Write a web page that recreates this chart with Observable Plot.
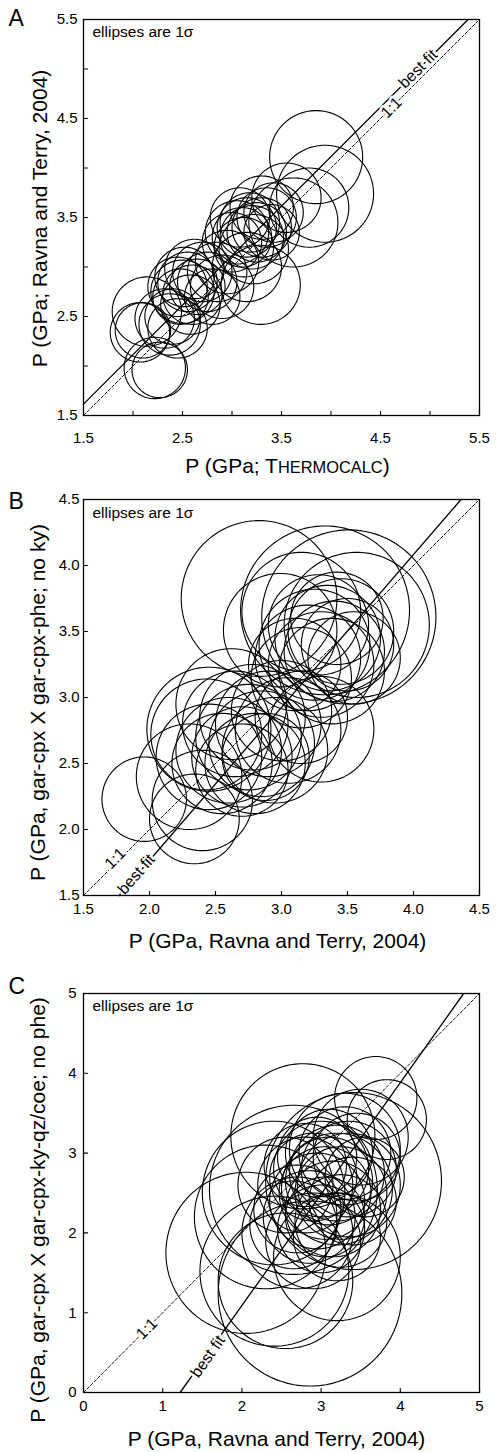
<!DOCTYPE html>
<html><head><meta charset="utf-8">
<script src="https://cdn.jsdelivr.net/npm/d3@7"></script>
<script src="https://cdn.jsdelivr.net/npm/@observablehq/plot@0.6"></script>
<style>
html,body{margin:0;padding:0;background:#fff;}
body{width:497px;}
.panel svg{display:block;overflow:visible;}
</style></head><body>
<div id="A" class="panel"></div><div id="B" class="panel"></div><div id="C" class="panel"></div>
<script>
// ---------- Panel A: centres (GPa) and 1-sigma radii ----------
const aX = [2.07,2.10,2.14,2.22,2.27,2.37,2.32,2.40,2.45,2.45,2.50,2.55,2.48,2.60,2.58,2.65,2.70,2.75,2.80,2.52,2.62,2.85,2.90,3.00,3.05,3.10,3.15,3.20,3.18,3.25,3.30,3.12,3.22,3.35,3.40,3.08,3.30,3.42,3.29,3.15,2.95,3.85,3.94,3.78,3.62,3.55];
const aY = [2.34,2.36,2.55,1.98,1.96,2.42,2.48,2.50,2.38,2.80,2.75,2.85,2.70,2.72,2.62,2.80,2.95,2.85,2.70,2.90,2.98,2.95,2.80,3.25,3.35,3.30,3.40,3.30,3.45,3.35,3.40,3.20,3.18,3.50,3.35,3.50,3.60,3.55,2.82,3.00,3.05,4.11,3.74,3.60,3.45,3.70];
const aS = [0.30,0.28,0.35,0.31,0.28,0.31,0.30,0.28,0.30,0.30,0.32,0.30,0.28,0.30,0.30,0.28,0.30,0.30,0.28,0.30,0.30,0.30,0.32,0.30,0.32,0.30,0.30,0.32,0.30,0.30,0.30,0.30,0.35,0.30,0.28,0.30,0.32,0.30,0.40,0.35,0.32,0.47,0.49,0.40,0.45,0.35];
const aDomain = [1.5, 5.5];
const aTicks = [1.5,2.0,2.5,3.0,3.5,4.0,4.5,5.0,5.5];
const aTickLabels = [1.5,2.5,3.5,4.5,5.5];
const aFitX = [1.5, 5.385];
const aFitY = [1.615, 5.5];

// ---------- Panel B ----------
const bX = [1.96,2.34,2.40,2.30,2.45,2.43,2.45,2.55,2.60,2.65,2.70,2.75,2.80,2.85,2.78,2.62,2.90,2.95,2.70,2.88,3.00,3.05,3.30,3.15,3.20,3.25,3.30,3.35,3.40,3.45,3.38,3.50,3.28,3.55,3.42,3.10,3.15,2.83,2.99,3.33,3.51,3.57,3.15];
const bY = [2.23,2.08,2.22,2.40,2.55,2.72,2.76,2.50,2.60,2.80,2.55,2.70,2.50,2.65,2.85,2.95,2.80,2.60,2.45,2.55,2.90,2.75,2.76,2.85,3.30,3.40,3.25,3.45,3.35,3.50,3.20,3.40,3.55,3.30,3.60,3.25,3.15,3.75,3.51,3.66,3.61,3.55,3.65];
const bS = [0.32,0.34,0.38,0.40,0.40,0.42,0.47,0.38,0.40,0.40,0.38,0.40,0.38,0.40,0.40,0.42,0.40,0.40,0.35,0.33,0.38,0.40,0.40,0.35,0.40,0.42,0.40,0.40,0.38,0.40,0.40,0.35,0.38,0.35,0.35,0.35,0.38,0.59,0.43,0.64,0.66,0.55,0.45];
const bDomain = [1.5, 4.5];
const bTicks = [1.5,2.0,2.5,3.0,3.5,4.0,4.5];
const bTickLabels = [1.5,2.0,2.5,3.0,3.5,4.0,4.5];
const bFitX = [1.77, 4.36];
const bFitY = [1.5, 4.5];

// ---------- Panel C ----------
const cX = [3.69,3.83,2.77,3.41,2.05,2.86,2.41,2.65,2.30,2.55,2.40,3.20,3.30,3.50,2.80,2.90,3.00,3.10,3.20,3.05,2.95,2.85,3.15,3.25,3.35,3.45,3.30,3.10,2.70,2.65,3.00,3.25,3.40,3.55,2.95,2.80,3.05,2.55,3.20,2.90,3.35,3.20,2.70];
const cY = [3.69,3.42,3.21,2.65,1.75,1.24,1.52,2.54,2.20,1.40,2.50,1.70,3.05,3.20,2.60,2.70,2.80,2.65,2.75,2.50,2.40,2.20,2.30,2.50,2.80,2.95,3.00,3.00,2.30,2.10,2.05,2.15,2.40,2.70,2.95,2.85,2.20,2.60,1.95,1.90,2.60,2.55,2.00];
const cS = [0.52,0.50,0.91,1.11,1.01,1.16,0.94,1.06,0.90,0.85,0.90,0.80,0.70,0.60,0.60,0.55,0.60,0.55,0.60,0.58,0.60,0.58,0.60,0.58,0.60,0.55,0.58,0.55,0.55,0.55,0.55,0.58,0.55,0.50,0.50,0.52,0.50,0.60,0.55,0.60,0.65,0.70,0.70];
const cDomain = [0, 5];
const cTicks = [0,1,2,3,4,5];
const cTickLabels = [0,1,2,3,4,5];
const cFitX = [1.22, 4.80];
const cFitY = [0, 5];

const FONT = "Liberation Sans, Arial, Helvetica, sans-serif";
const tickShape = {draw(ctx, l) { ctx.moveTo(0, 0); ctx.lineTo(0, -l); }};

function ellipsePoints(cx, cy, s) {
  const pts = [];
  const n = 90;
  for (let i = 0; i < cx.length; i++) {
    for (let k = 0; k <= n; k++) {
      const t = 2 * Math.PI * k / n;
      pts.push({id: i, x: cx[i] + s[i] * Math.cos(t), y: cy[i] + s[i] * Math.sin(t)});
    }
  }
  return pts;
}

function panel(o) {
  const d0 = o.domain[0], d1 = o.domain[1];
  const fit = o.fitX.map((x, i) => ({x, y: o.fitY[i]}));
  const one = [{x: d0, y: d0}, {x: d1, y: d1}];
  const halo = {stroke: "white", strokeWidth: 5, paintOrder: "stroke", fill: "black", fontSize: 16, textAnchor: "middle", lineAnchor: "middle"};
  return Plot.plot({
    width: 497, height: o.height,
    marginLeft: 83, marginRight: 18, marginTop: o.mt, marginBottom: o.mb,
    x: {domain: o.domain, axis: null},
    y: {domain: o.domain, axis: null},
    style: {fontFamily: FONT, color: "black", background: "white", overflow: "visible"},
    marks: [
      Plot.line(ellipsePoints(o.cx, o.cy, o.cs), {x: "x", y: "y", z: "id", stroke: "black", strokeWidth: 1.1, curve: "linear-closed"}),
      Plot.line(one, {x: "x", y: "y", stroke: "black", strokeWidth: 0.9, strokeDasharray: "3,2"}),
      Plot.line(fit, {x: "x", y: "y", stroke: "black", strokeWidth: 1.3}),
      Plot.text([o.lab11], {x: "x", y: "y", text: () => "1:1", rotate: o.rot11, ...halo}),
      Plot.text([o.labFit], {x: "x", y: "y", text: () => "best fit", rotate: o.rotFit, ...halo}),
      Plot.frame({stroke: "black", strokeWidth: 1.3}),
      Plot.vector(o.ticks, {x: d => d, y: d0, length: 4, rotate: 0, anchor: "start", shape: tickShape, stroke: "black", strokeWidth: 1.1}),
      Plot.vector(o.ticks, {x: d0, y: d => d, length: 4, rotate: 90, anchor: "start", shape: tickShape, stroke: "black", strokeWidth: 1.1}),
      Plot.text(o.labels, {x: d => d, y: d0, text: d => o.fmt(d), dy: o.xLabDy, fontSize: 15, lineAnchor: "middle", textAnchor: "middle"}),
      Plot.text(o.labels, {x: d0, y: d => d, text: d => o.fmt(d), dx: o.yLabDx, fontSize: 15, lineAnchor: "middle", textAnchor: "end"}),
      Plot.text([0], {frameAnchor: "bottom", text: () => o.xTitle, dy: o.xTitleDy, dx: o.xTitleDx, fontSize: 21, lineAnchor: "middle", textAnchor: "middle"}),
      Plot.text([0], {frameAnchor: "left", text: () => o.yTitle, dx: o.yTitleDx, dy: o.yTitleDy, rotate: -90, fontSize: 21, lineAnchor: "middle", textAnchor: "middle"}),
      Plot.text([0], {frameAnchor: "top-left", text: () => o.letter, dx: -75, dy: o.letterDy, fontSize: 23, lineAnchor: "bottom", textAnchor: "start"}),
      Plot.text([0], {frameAnchor: "top-left", text: () => "ellipses are 1\u03C3", dx: 9, dy: o.noteDy, fontSize: 15.5, lineAnchor: "bottom", textAnchor: "start"})
    ]
  });
}

const f1 = d3.format(".1f"), f0 = d3.format("d");

const A = panel({letter: "A", height: 480, mt: 19, mb: 65, domain: aDomain, ticks: aTicks, labels: aTickLabels, fmt: f1,
  cx: aX, cy: aY, cs: aS, fitX: aFitX, fitY: aFitY,
  lab11: {x: 4.61, y: 4.61}, labFit: {x: 4.88, y: 5.0}, rot11: -45, rotFit: -45,
  xLabDy: 23, yLabDx: -6, xTitle: "P (GPa; THERMOCALC)", xTitleDy: 51, xTitleDx: 6,
  yTitle: "P (GPa; Ravna and Terry, 2004)", yTitleDx: -43, yTitleDy: 1, letterDy: 6, noteDy: 17});
const B = panel({letter: "B", height: 480, mt: 19, mb: 65, domain: bDomain, ticks: bTicks, labels: bTickLabels, fmt: f1,
  cx: bX, cy: bY, cs: bS, fitX: bFitX, fitY: bFitY,
  lab11: {x: 1.74, y: 1.78}, labFit: {x: 1.90, y: 1.66}, rot11: -45, rotFit: -49,
  xLabDy: 14, yLabDx: -4, xTitle: "P (GPa, Ravna and Terry, 2004)", xTitleDy: 46, xTitleDx: -4,
  yTitle: "P (GPa, gar-cpx X gar-cpx-phe; no ky)", yTitleDx: -45, yTitleDy: 5, letterDy: 9, noteDy: 18});
const C = panel({letter: "C", height: 492, mt: 33, mb: 60, domain: cDomain, ticks: cTicks, labels: cTickLabels, fmt: f0,
  cx: cX, cy: cY, cs: cS, fitX: cFitX, fitY: cFitY,
  lab11: {x: 0.80, y: 0.80}, labFit: {x: 1.57, y: 0.45}, rot11: -45, rotFit: -55,
  xLabDy: 14, yLabDx: -7, xTitle: "P (GPa, Ravna and Terry, 2004)", xTitleDy: 47, xTitleDx: -5,
  yTitle: "P (GPa, gar-cpx X gar-cpx-ky-qz/coe; no phe)", yTitleDx: -45, yTitleDy: 17, letterDy: 0, noteDy: 17});

document.getElementById("A").append(A);
document.getElementById("B").append(B);
document.getElementById("C").append(C);

// small caps for THERMOCALC
for (const t of A.querySelectorAll("text")) {
  if (t.textContent === "P (GPa; THERMOCALC)") {
    t.textContent = "";
    const ns = "http://www.w3.org/2000/svg";
    const parts = [["P (GPa; T", false], ["HERMOCALC", true], [")", false]];
    for (const [s, small] of parts) {
      const sp = document.createElementNS(ns, "tspan");
      sp.textContent = s;
      if (small) sp.setAttribute("font-size", "16.4");
      t.appendChild(sp);
    }
  }
}
</script>
</body></html>
